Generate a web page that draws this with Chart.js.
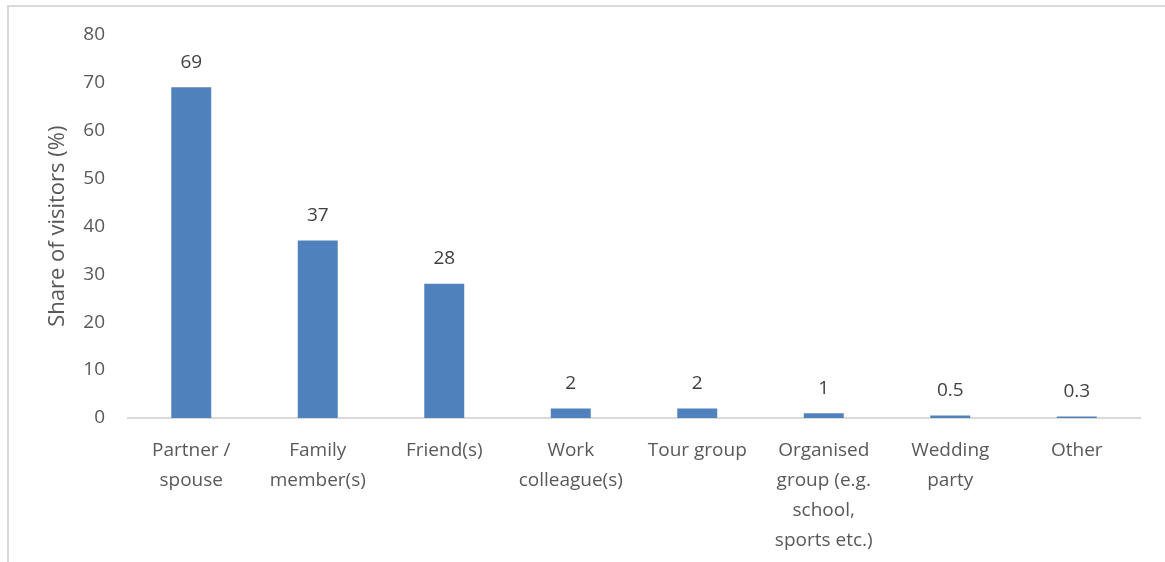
<!DOCTYPE html>
<html>
<head>
<meta charset="utf-8">
<script src="https://cdn.jsdelivr.net/npm/chart.js@4/dist/chart.umd.min.js"></script>
<style>
  html, body { margin: 0; padding: 0; background: #ffffff; }
  #wrap { position: relative; width: 1165px; height: 562px; overflow: hidden; }
  #frame { position: absolute; left: 7px; top: 5px; width: 1200px; height: 600px;
           border-left: 2px solid #d9d9d9; border-top: 2px solid #d9d9d9; box-sizing: border-box; }
  canvas { position: absolute; left: 0; top: 0; }
</style>
</head>
<body>
<div id="wrap">
  <div id="frame"></div>
  <canvas id="c" width="1165" height="562"></canvas>
</div>
<script>
// Travel companions: share of visitors (%)
const categories = [
  ["Partner /", "spouse"],
  ["Family", "member(s)"],
  ["Friend(s)"],
  ["Work", "colleague(s)"],
  ["Tour group"],
  ["Organised", "group (e.g.", "school,", "sports etc.)"],
  ["Wedding", "party"],
  ["Other"]
];
const shares = [69, 37, 28, 2, 2, 1, 0.5, 0.3];
const valueLabels = ["69", "37", "28", "2", "2", "1", "0.5", "0.3"];
const yTicks = [0, 10, 20, 30, 40, 50, 60, 70, 80];

const FONT = "'Open Sans', sans-serif";

// Writes the value above each bar
const barValueLabels = {
  id: 'barValueLabels',
  afterDatasetsDraw(chart) {
    const ctx = chart.ctx;
    const meta = chart.getDatasetMeta(0);
    ctx.save();
    ctx.font = "19px " + FONT;
    ctx.fillStyle = '#404040';
    ctx.textAlign = 'center';
    ctx.textBaseline = 'middle';
    meta.data.forEach((bar, i) => {
      ctx.fillText(valueLabels[i], bar.x, bar.y - 25);
    });
    ctx.restore();
  }
};

new Chart(document.getElementById('c'), {
  type: 'bar',
  data: {
    labels: categories,
    datasets: [{
      data: shares,
      backgroundColor: '#4f81bd',
      borderWidth: 0,
      categoryPercentage: 1.0,
      barPercentage: 0.316
    }]
  },
  options: {
    responsive: false,
    animation: false,
    devicePixelRatio: 1,
    layout: { padding: { top: 34, right: 25, left: 0, bottom: 0 } },
    plugins: { legend: { display: false }, tooltip: { enabled: false } },
    scales: {
      x: {
        grid: { display: false, drawTicks: false },
        border: { display: true, color: '#d9d9d9', width: 2 },
        ticks: {
          color: '#595959',
          font: { family: FONT, size: 19, lineHeight: 1.58 },
          padding: 18,
          maxRotation: 0,
          autoSkip: false
        },
        afterFit(scale) { scale.height = 144; }
      },
      y: {
        min: 0,
        max: 80,
        afterBuildTicks(scale) { scale.ticks = yTicks.map(v => ({ value: v })); },
        grid: { display: false, drawTicks: false },
        border: { display: false },
        ticks: {
          color: '#595959',
          font: { family: FONT, size: 19 },
          padding: 23
        },
        title: {
          display: true,
          text: 'Share of visitors (%)',
          color: '#595959',
          font: { family: FONT, size: 22, lineHeight: 1.2 },
          padding: { top: 45, bottom: 0 }
        },
        afterFit(scale) { scale.width = 128; }
      }
    }
  },
  plugins: [barValueLabels]
});
</script>
</body>
</html>
